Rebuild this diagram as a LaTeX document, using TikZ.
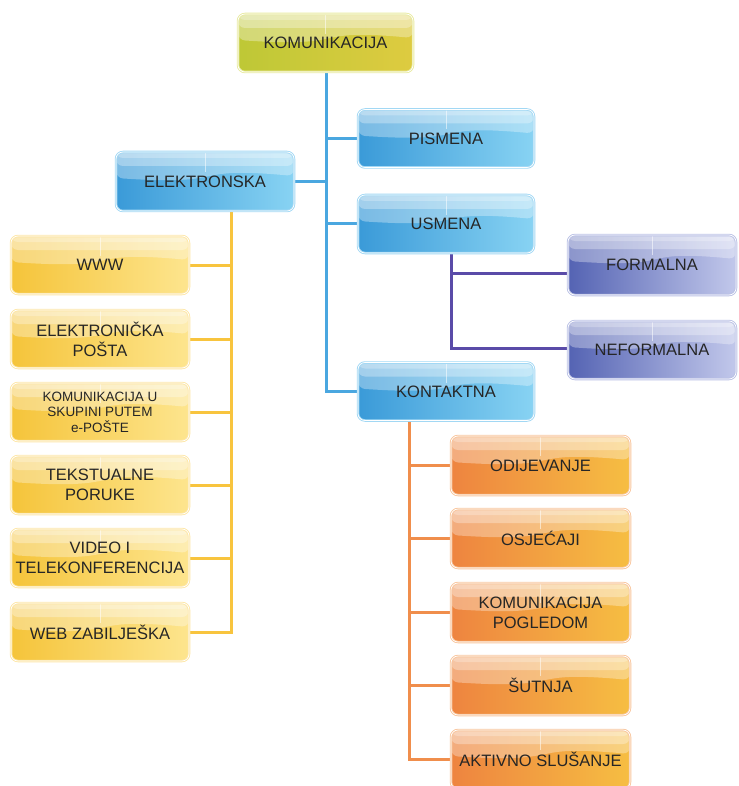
\documentclass[tikz,border=0pt]{standalone}
\usepackage{fontspec}
\setmainfont{Liberation Sans}
\usetikzlibrary{calc}
\pgfdeclarelayer{background}
\pgfsetlayers{background,main}
\definecolor{grL}{HTML}{BEC836}\definecolor{grR}{HTML}{DECB40}\definecolor{grB}{HTML}{E8EAA0}
\definecolor{blL}{HTML}{3A9AD8}\definecolor{blR}{HTML}{88D3F3}\definecolor{blB}{HTML}{A2D8F4}
\definecolor{puL}{HTML}{5463B3}\definecolor{puR}{HTML}{C2C8EB}\definecolor{puB}{HTML}{BAC1E5}
\definecolor{yeL}{HTML}{F5C43A}\definecolor{yeR}{HTML}{FDE58E}\definecolor{yeB}{HTML}{FDE6A6}
\definecolor{orL}{HTML}{EE8440}\definecolor{orR}{HTML}{F6BE42}\definecolor{orB}{HTML}{F8C59C}
\definecolor{txt}{HTML}{262626}
\definecolor{lnBl}{HTML}{4AA7E0}\definecolor{lnPu}{HTML}{5A4BA8}
\definecolor{lnYe}{HTML}{F8C43E}\definecolor{lnOr}{HTML}{F08E4C}
\tikzset{
  box/.style n args={3}{rounded corners=7pt, left color=#1, right color=#2,
    draw=#3, line width=0.9pt, double=white, double distance=0.7pt,
    inner sep=0pt, align=center, text=txt,
    font=\fontsize{16.5}{20}\selectfont,
    minimum width=176pt, minimum height=58pt,
    path picture={
      \fill[white, fill opacity=0.32]
        (path picture bounding box.north west) -- (path picture bounding box.north east)
        -- ([yshift=-24pt]path picture bounding box.north east)
        .. controls ([xshift=-20pt,yshift=-14pt]path picture bounding box.north)
        and ([xshift=30pt,yshift=-34pt]path picture bounding box.north)
        .. ([yshift=-26pt]path picture bounding box.north west) -- cycle;
      \fill[white, fill opacity=0.3]
        (path picture bounding box.north west) rectangle ([yshift=-14pt]path picture bounding box.north east);
      \fill[white, fill opacity=0.25]
        (path picture bounding box.north west) rectangle ([yshift=-6pt]path picture bounding box.north east);
      \draw[white, opacity=0.55, line width=0.6pt]
        (path picture bounding box.north) -- ([yshift=-20pt]path picture bounding box.north);
    }},
  gbox/.style={box={grL}{grR}{grB}},
  bbox/.style={box={blL}{blR}{blB}},
  pbox/.style={box={puL}{puR}{puB}},
  ybox/.style={box={yeL}{yeR}{yeB}},
  obox/.style={box={orL}{orR}{orB}},
  conn/.style={line width=3pt},
}
\begin{document}
\begin{tikzpicture}[x=1pt,y=-1pt]
\useasboundingbox (0,0) rectangle (738,786);
% root
\node[gbox, minimum width=175pt] (kom) at (325.5,43) {KOMUNIKACIJA};
% blue
\node[bbox] (pis) at (446,138.5) {PISMENA};
\node[bbox, minimum width=178pt, minimum height=59pt] (elek) at (205,181.5) {ELEKTRONSKA};
\node[bbox] (usm) at (446,224) {USMENA};
\node[bbox] (kont) at (446,391.5) {KONTAKTNA};
% purple
\node[pbox, minimum width=168pt, minimum height=60pt] (form) at (652,265) {FORMALNA};
\node[pbox, minimum width=168pt, minimum height=58pt] (nef) at (652,350) {NEFORMALNA};
% yellow
\node[ybox, minimum width=178pt] (y1) at (100,265) {WWW};
\node[ybox, minimum width=178pt] (y2) at (100,339) {ELEKTRONIČKA\\POŠTA};
\node[ybox, minimum width=178pt, font=\fontsize{13.5}{15.5}\selectfont] (y3) at (100,412) {KOMUNIKACIJA U\\SKUPINI PUTEM\\e-POŠTE};
\node[ybox, minimum width=178pt] (y4) at (100,485) {TEKSTUALNE\\PORUKE};
\node[ybox, minimum width=178pt] (y5) at (100,558) {VIDEO I\\TELEKONFERENCIJA};
\node[ybox, minimum width=178pt] (y6) at (100,632) {WEB ZABILJEŠKA};
% orange
\node[obox, minimum width=179pt, minimum height=59pt] (o1) at (540.5,465.5) {ODIJEVANJE};
\node[obox, minimum width=179pt, minimum height=59pt] (o2) at (540.5,538.5) {OSJEĆAJI};
\node[obox, minimum width=179pt, minimum height=59pt] (o3) at (540.5,612.5) {KOMUNIKACIJA\\POGLEDOM};
\node[obox, minimum width=179pt, minimum height=59pt] (o4) at (540.5,685.5) {ŠUTNJA};
\node[obox, minimum width=179pt, minimum height=59pt] (o5) at (540.5,759.5) {AKTIVNO SLUŠANJE};
% trunk coordinates
\coordinate (bt) at ([xshift=0.5pt]kom.south);
\coordinate (pt) at ([xshift=5pt]usm.south);
\coordinate (yt) at ([xshift=26pt]elek.south);
\coordinate (ot) at ([xshift=-37pt]kont.south);
\coordinate (fj) at ([yshift=-8pt]form.west);
\coordinate (nj) at ([yshift=2pt]nef.west);
\begin{pgfonlayer}{background}
  % blue
  \draw[conn, lnBl] (bt) |- (kont.west);
  \draw[conn, lnBl] (bt |- pis.west) -- (pis.west);
  \draw[conn, lnBl] (bt |- usm.west) -- (usm.west);
  \draw[conn, lnBl] (elek.east) -- (elek.east -| bt);
  % purple
  \draw[conn, lnPu] (pt) |- (nj);
  \draw[conn, lnPu] (pt |- fj) -- (fj);
  % yellow
  \draw[conn, lnYe] (yt) |- (y6.east);
  \foreach \n in {y1,y2,y3,y4,y5} \draw[conn, lnYe] (\n.east) -- (\n.east -| yt);
  % orange
  \draw[conn, lnOr] (ot) |- (o5.west);
  \foreach \n in {o1,o2,o3,o4} \draw[conn, lnOr] (\n.west -| ot) -- (\n.west);
\end{pgfonlayer}
\end{tikzpicture}
\end{document}
